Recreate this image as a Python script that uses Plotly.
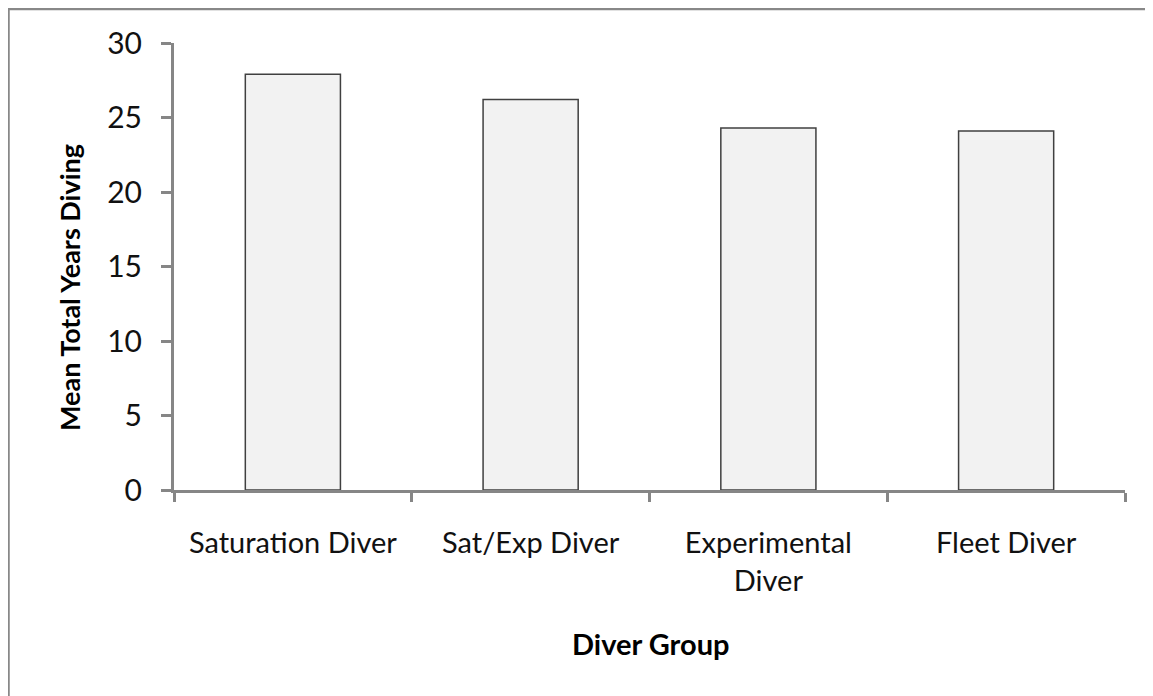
import plotly.graph_objects as go

categories = ["Saturation Diver", "Sat/Exp Diver", "Experimental<br>Diver", "Fleet Diver"]
mean_years = [27.9, 26.2, 24.3, 24.1]
y_ticks = [0, 5, 10, 15, 20, 25, 30]

# page has an 8px body margin; work in page pixel coordinates and shift
OFF = 8
W, H = 1153 - OFF, 696 - OFF
PL, PR, PT, PB = 174, 1125, 43, 490          # plot area in page pixels
L, T = PL - OFF, PT - OFF
pw, ph = PR - PL, PB - PT
R, B = W - L - pw, H - T - ph


def px(xp):
    return (xp - PL) / pw


def py(yp):
    return (PB - yp) / ph


FONT = "Lato"
AXIS_COLOR = "#868686"
TXT = "#111111"

fig = go.Figure()
fig.add_trace(go.Bar(
    x=categories, y=mean_years, width=0.4,
    marker=dict(color="#f2f2f2", line=dict(color="#404040", width=1.5)),
    hoverinfo="x+y",
))

fig.update_layout(
    width=W, height=H,
    margin=dict(l=L, r=R, t=T, b=B, autoexpand=False),
    paper_bgcolor="white", plot_bgcolor="white",
    showlegend=False,
    font=dict(family=FONT, size=29, color=TXT),
    xaxis=dict(
        type="category", range=[-0.5, 3.5],
        showline=True, linecolor=AXIS_COLOR, linewidth=3,
        ticks="outside", tickson="boundaries", ticklen=9, tickwidth=3, tickcolor=AXIS_COLOR,
        showgrid=False, zeroline=False,
        tickfont=dict(family=FONT, size=29, color=TXT),
        ticklabelstandoff=25,
    ),
    yaxis=dict(
        range=[0, 30], tickvals=y_ticks,
        showline=True, linecolor=AXIS_COLOR, linewidth=3,
        ticks="outside", ticklen=10, tickwidth=3, tickcolor=AXIS_COLOR,
        showgrid=False, zeroline=False,
        tickfont=dict(family=FONT, size=30, color=TXT),
        ticklabelstandoff=13,
    ),
    shapes=[dict(
        type="rect", xref="paper", yref="paper",
        x0=px(8.5), x1=px(1153 + 30),
        y0=py(696 + 30), y1=py(9),
        line=dict(color="#888888", width=2.5), fillcolor="rgba(0,0,0,0)", layer="below",
    )],
    annotations=[
        dict(text="<b>Mean Total Years Diving</b>", xref="paper", yref="paper",
             x=px(69), y=py(288), xanchor="center", yanchor="middle",
             textangle=-90, showarrow=False, font=dict(family=FONT, size=27, color="#000000")),
        dict(text="<b>Diver Group</b>", xref="paper", yref="paper",
             x=px(650), y=py(643), xanchor="center", yanchor="middle",
             showarrow=False, font=dict(family=FONT, size=29, color="#000000")),
    ],
)

fig.write_html("out.html")
